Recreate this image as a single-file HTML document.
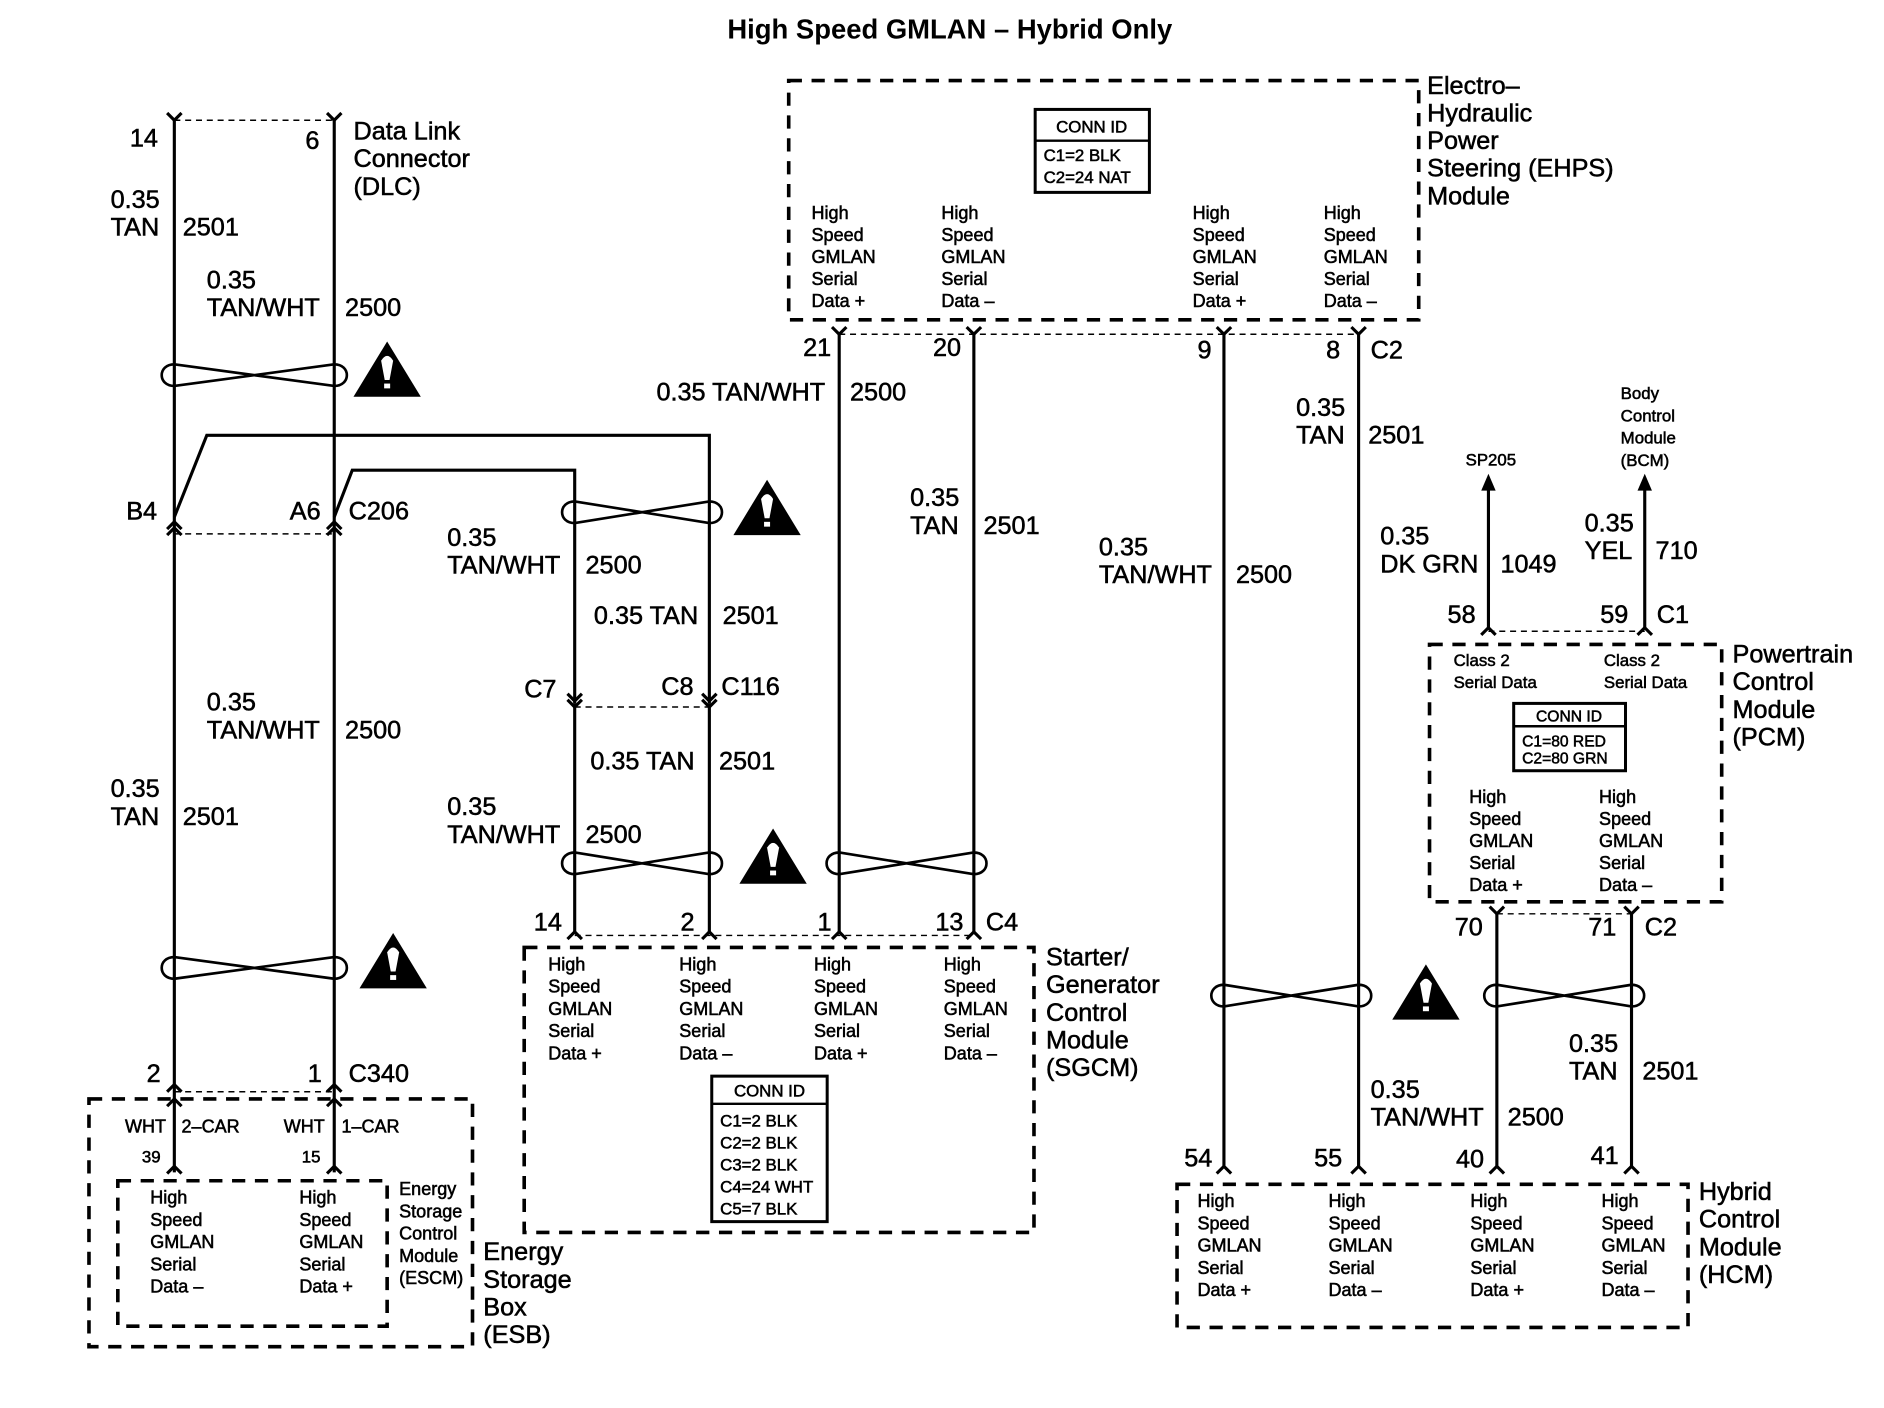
<!DOCTYPE html>
<html><head><meta charset="utf-8"><style>
html,body{margin:0;padding:0;background:#fff;}
svg{display:block;}
text{font-family:"Liberation Sans",Arial,sans-serif;fill:#000;stroke:#000;stroke-width:0.45;}
.L{font-size:21px;}
.S{font-size:15px;}
.T{font-size:14px;}
.w{stroke:#000;stroke-width:2.6;fill:none;}
.b{stroke:#000;stroke-width:3;fill:none;stroke-dasharray:11 8;}
.d{stroke:#000;stroke-width:1.2;fill:none;stroke-dasharray:5 4;}
.tw{stroke:#000;stroke-width:2.2;fill:none;}
</style></head><body>
<svg width="1884" height="1408" viewBox="0 0 1567 1171" preserveAspectRatio="none" xmlns="http://www.w3.org/2000/svg">
<defs>
<g id="warn"><polygon points="-28,22 28,22 0,-24" fill="#000"/><path d="M-5,-8 Q0,-16 5,-8 L2,8 L-2,8 Z" fill="#fff"/><rect x="-2.5" y="11" width="5" height="4" fill="#fff"/></g>
</defs>
<text x="605" y="32" textLength="370" lengthAdjust="spacingAndGlyphs" style="font-size:23px;font-weight:bold;stroke-width:0">High Speed GMLAN – Hybrid Only</text>

<!-- DLC -->
<line class="d" x1="145" y1="100" x2="278" y2="100"/>
<polyline class="w" points="139,94 145,100 151,94"/><polyline class="w" points="272,94 278,100 284,94"/>
<line class="w" x1="145" y1="100" x2="145" y2="975"/>
<line class="w" x1="278" y1="100" x2="278" y2="975"/>
<text class="L" x="108" y="122">14</text><text class="L" x="254" y="124">6</text>
<text class="L" x="294" y="116">Data Link<tspan x="294" dy="23">Connector</tspan><tspan x="294" dy="23">(DLC)</tspan></text>
<text class="L" x="92" y="173">0.35<tspan x="92" dy="23">TAN</tspan></text><text class="L" x="152" y="196">2501</text>
<text class="L" x="172" y="240">0.35<tspan x="172" dy="23">TAN/WHT</tspan></text><text class="L" x="287" y="263">2500</text>
<path class="tw" d="M145,303 C131,303 131,321 145,321 L278,303 C292,303 292,321 278,321 Z"/>
<use href="#warn" x="322" y="308"/>

<!-- C206 jogs -->
<polyline class="w" points="145,430 172,362 590,362 590,585"/>
<polyline class="w" points="278,430 293,391 478,391 478,585"/>
<line class="d" x1="145" y1="444" x2="278" y2="444"/>
<polyline class="w" points="139,440 145,434 151,440"/><polyline class="w" points="139,445 145,439 151,445"/>
<polyline class="w" points="272,440 278,434 284,440"/><polyline class="w" points="272,445 278,439 284,445"/>
<text class="L" x="105" y="432">B4</text><text class="L" x="241" y="432">A6</text><text class="L" x="290" y="432">C206</text>
<path class="tw" d="M478,417 C464,417 464,435 478,435 L590,417 C604,417 604,435 590,435 Z"/>
<use href="#warn" x="638" y="423"/>
<text class="L" x="372" y="454">0.35<tspan x="372" dy="23">TAN/WHT</tspan></text><text class="L" x="487" y="477">2500</text>
<text class="L" x="494" y="519">0.35 TAN</text><text class="L" x="601" y="519">2501</text>

<!-- C116 -->
<polyline class="w" points="472,577 478,583 484,577"/><polyline class="w" points="472,582 478,588 484,582"/>
<polyline class="w" points="584,577 590,583 596,577"/><polyline class="w" points="584,582 590,588 596,582"/>
<line class="d" x1="478" y1="588" x2="590" y2="588"/>
<line class="w" x1="478" y1="585" x2="478" y2="775"/><line class="w" x1="590" y1="585" x2="590" y2="775"/>
<text class="L" x="436" y="580">C7</text><text class="L" x="550" y="578">C8</text><text class="L" x="600" y="578">C116</text>
<text class="L" x="491" y="640">0.35 TAN</text><text class="L" x="598" y="640">2501</text>
<text class="L" x="372" y="678">0.35<tspan x="372" dy="23">TAN/WHT</tspan></text><text class="L" x="487" y="701">2500</text>
<path class="tw" d="M478,709 C464,709 464,727 478,727 L590,709 C604,709 604,727 590,727 Z"/>
<use href="#warn" x="643" y="713"/>
<path class="tw" d="M698,709 C684,709 684,727 698,727 L810,709 C824,709 824,727 810,727 Z"/>

<text class="L" x="172" y="591">0.35<tspan x="172" dy="23">TAN/WHT</tspan></text><text class="L" x="287" y="614">2500</text>
<text class="L" x="92" y="663">0.35<tspan x="92" dy="23">TAN</tspan></text><text class="L" x="152" y="686">2501</text>
<path class="tw" d="M145,796 C131,796 131,814 145,814 L278,796 C292,796 292,814 278,814 Z"/>
<use href="#warn" x="327" y="800"/>

<!-- ESB -->
<text class="L" x="122" y="900">2</text><text class="L" x="256" y="900">1</text><text class="L" x="290" y="900">C340</text>
<polyline class="w" points="139,908 145,902 151,908"/><polyline class="w" points="272,908 278,902 284,908"/>
<line class="d" x1="145" y1="908" x2="278" y2="908"/>
<polyline class="w" points="139,920 145,914 151,920"/><polyline class="w" points="272,920 278,914 284,920"/>
<rect class="b" x="74" y="914" width="319" height="206"/>
<text class="S" x="104" y="942">WHT</text><text class="S" x="151" y="942">2–CAR</text>
<text class="S" x="236" y="942">WHT</text><text class="S" x="284" y="942">1–CAR</text>
<text class="T" x="118" y="967">39</text><text class="T" x="251" y="967">15</text>
<polyline class="w" points="139,976 145,970 151,976"/><polyline class="w" points="272,976 278,970 284,976"/>
<rect class="b" x="98" y="982" width="224" height="121"/>
<text class="S" x="125" y="1001">High<tspan x="125" dy="18.5">Speed</tspan><tspan x="125" dy="18.5">GMLAN</tspan><tspan x="125" dy="18.5">Serial</tspan><tspan x="125" dy="18.5">Data –</tspan></text>
<text class="S" x="249" y="1001">High<tspan x="249" dy="18.5">Speed</tspan><tspan x="249" dy="18.5">GMLAN</tspan><tspan x="249" dy="18.5">Serial</tspan><tspan x="249" dy="18.5">Data +</tspan></text>
<text class="S" x="332" y="994">Energy<tspan x="332" dy="18.5">Storage</tspan><tspan x="332" dy="18.5">Control</tspan><tspan x="332" dy="18.5">Module</tspan><tspan x="332" dy="18.5">(ESCM)</tspan></text>
<text class="L" x="402" y="1048">Energy<tspan x="402" dy="23">Storage</tspan><tspan x="402" dy="23">Box</tspan><tspan x="402" dy="23">(ESB)</tspan></text>

<!-- EHPS -->
<rect class="b" x="656" y="67" width="524" height="199"/>
<rect x="861" y="91" width="95" height="69" fill="none" stroke="#000" stroke-width="2.5"/>
<line x1="861" y1="117" x2="956" y2="117" stroke="#000" stroke-width="2"/>
<text class="T" x="908" y="110" text-anchor="middle">CONN ID</text>
<text class="T" x="868" y="134">C1=2 BLK</text><text class="T" x="868" y="152">C2=24 NAT</text>
<text class="S" x="675" y="182">High<tspan x="675" dy="18.3">Speed</tspan><tspan x="675" dy="18.3">GMLAN</tspan><tspan x="675" dy="18.3">Serial</tspan><tspan x="675" dy="18.3">Data +</tspan></text>
<text class="S" x="783" y="182">High<tspan x="783" dy="18.3">Speed</tspan><tspan x="783" dy="18.3">GMLAN</tspan><tspan x="783" dy="18.3">Serial</tspan><tspan x="783" dy="18.3">Data –</tspan></text>
<text class="S" x="992" y="182">High<tspan x="992" dy="18.3">Speed</tspan><tspan x="992" dy="18.3">GMLAN</tspan><tspan x="992" dy="18.3">Serial</tspan><tspan x="992" dy="18.3">Data +</tspan></text>
<text class="S" x="1101" y="182">High<tspan x="1101" dy="18.3">Speed</tspan><tspan x="1101" dy="18.3">GMLAN</tspan><tspan x="1101" dy="18.3">Serial</tspan><tspan x="1101" dy="18.3">Data –</tspan></text>
<text class="L" x="1187" y="78">Electro–<tspan x="1187" dy="23">Hydraulic</tspan><tspan x="1187" dy="23">Power</tspan><tspan x="1187" dy="23">Steering (EHPS)</tspan><tspan x="1187" dy="23">Module</tspan></text>
<line class="d" x1="698" y1="278" x2="1130" y2="278"/>
<polyline class="w" points="692,272 698,278 704,272"/><polyline class="w" points="804,272 810,278 816,272"/>
<polyline class="w" points="1012,272 1018,278 1024,272"/><polyline class="w" points="1124,272 1130,278 1136,272"/>
<line class="w" x1="698" y1="278" x2="698" y2="775"/><line class="w" x1="810" y1="278" x2="810" y2="775"/>
<line class="w" x1="1018" y1="278" x2="1018" y2="970"/><line class="w" x1="1130" y1="278" x2="1130" y2="970"/>
<text class="L" x="668" y="296">21</text><text class="L" x="776" y="296">20</text><text class="L" x="996" y="298">9</text><text class="L" x="1103" y="298">8</text><text class="L" x="1140" y="298">C2</text>
<text class="L" x="546" y="333">0.35 TAN/WHT</text><text class="L" x="707" y="333">2500</text>
<text class="L" x="757" y="421">0.35<tspan x="757" dy="23">TAN</tspan></text><text class="L" x="818" y="444">2501</text>
<text class="L" x="1078" y="346">0.35<tspan x="1078" dy="23">TAN</tspan></text><text class="L" x="1138" y="369">2501</text>
<text class="L" x="914" y="462">0.35<tspan x="914" dy="23">TAN/WHT</tspan></text><text class="L" x="1028" y="485">2500</text>

<!-- SGCM -->
<polyline class="w" points="472,781 478,775 484,781"/><polyline class="w" points="584,781 590,775 596,781"/>
<polyline class="w" points="692,781 698,775 704,781"/><polyline class="w" points="804,781 810,775 816,781"/>
<line class="d" x1="478" y1="778" x2="810" y2="778"/>
<text class="L" x="444" y="774">14</text><text class="L" x="566" y="774">2</text><text class="L" x="680" y="774">1</text><text class="L" x="778" y="774">13</text><text class="L" x="820" y="774">C4</text>
<rect class="b" x="436" y="788" width="424" height="237"/>
<text class="S" x="456" y="807">High<tspan x="456" dy="18.5">Speed</tspan><tspan x="456" dy="18.5">GMLAN</tspan><tspan x="456" dy="18.5">Serial</tspan><tspan x="456" dy="18.5">Data +</tspan></text>
<text class="S" x="565" y="807">High<tspan x="565" dy="18.5">Speed</tspan><tspan x="565" dy="18.5">GMLAN</tspan><tspan x="565" dy="18.5">Serial</tspan><tspan x="565" dy="18.5">Data –</tspan></text>
<text class="S" x="677" y="807">High<tspan x="677" dy="18.5">Speed</tspan><tspan x="677" dy="18.5">GMLAN</tspan><tspan x="677" dy="18.5">Serial</tspan><tspan x="677" dy="18.5">Data +</tspan></text>
<text class="S" x="785" y="807">High<tspan x="785" dy="18.5">Speed</tspan><tspan x="785" dy="18.5">GMLAN</tspan><tspan x="785" dy="18.5">Serial</tspan><tspan x="785" dy="18.5">Data –</tspan></text>
<rect x="592" y="895" width="96" height="121" fill="none" stroke="#000" stroke-width="2.5"/>
<line x1="592" y1="918" x2="688" y2="918" stroke="#000" stroke-width="2"/>
<text class="T" x="640" y="912" text-anchor="middle">CONN ID</text>
<text class="T" x="599" y="937">C1=2 BLK<tspan x="599" dy="18.3">C2=2 BLK</tspan><tspan x="599" dy="18.3">C3=2 BLK</tspan><tspan x="599" dy="18.3">C4=24 WHT</tspan><tspan x="599" dy="18.3">C5=7 BLK</tspan></text>
<text class="L" x="870" y="803">Starter/<tspan x="870" dy="23">Generator</tspan><tspan x="870" dy="23">Control</tspan><tspan x="870" dy="23">Module</tspan><tspan x="870" dy="23">(SGCM)</tspan></text>

<!-- PCM -->
<line class="w" x1="1238" y1="522" x2="1238" y2="404"/><polygon points="1232,408 1238,394 1244,408" fill="#000"/>
<line class="w" x1="1368" y1="522" x2="1368" y2="404"/><polygon points="1362,408 1368,394 1374,408" fill="#000"/>
<polyline class="w" points="1232,528 1238,522 1244,528"/><polyline class="w" points="1362,528 1368,522 1374,528"/>
<line class="d" x1="1238" y1="525" x2="1368" y2="525"/>
<text class="T" x="1219" y="387">SP205</text>
<text class="T" x="1348" y="332">Body<tspan x="1348" dy="18.5">Control</tspan><tspan x="1348" dy="18.5">Module</tspan><tspan x="1348" dy="18.5">(BCM)</tspan></text>
<text class="L" x="1148" y="453">0.35<tspan x="1148" dy="23">DK GRN</tspan></text><text class="L" x="1248" y="476">1049</text>
<text class="L" x="1318" y="442">0.35<tspan x="1318" dy="23">YEL</tspan></text><text class="L" x="1377" y="465">710</text>
<text class="L" x="1204" y="518">58</text><text class="L" x="1331" y="518">59</text><text class="L" x="1378" y="518">C1</text>
<rect class="b" x="1189" y="536" width="243" height="214"/>
<text class="T" x="1209" y="554">Class 2<tspan x="1209" dy="18">Serial Data</tspan></text>
<text class="T" x="1334" y="554">Class 2<tspan x="1334" dy="18">Serial Data</tspan></text>
<rect x="1259" y="585" width="93" height="56" fill="none" stroke="#000" stroke-width="2.5"/>
<line x1="1259" y1="604" x2="1352" y2="604" stroke="#000" stroke-width="2"/>
<text class="T" x="1305" y="600" text-anchor="middle" style="font-size:13px">CONN ID</text>
<text class="T" x="1266" y="621" style="font-size:13px">C1=80 RED<tspan x="1266" dy="14">C2=80 GRN</tspan></text>
<text class="S" x="1222" y="668">High<tspan x="1222" dy="18.3">Speed</tspan><tspan x="1222" dy="18.3">GMLAN</tspan><tspan x="1222" dy="18.3">Serial</tspan><tspan x="1222" dy="18.3">Data +</tspan></text>
<text class="S" x="1330" y="668">High<tspan x="1330" dy="18.3">Speed</tspan><tspan x="1330" dy="18.3">GMLAN</tspan><tspan x="1330" dy="18.3">Serial</tspan><tspan x="1330" dy="18.3">Data –</tspan></text>
<text class="L" x="1441" y="551">Powertrain<tspan x="1441" dy="23">Control</tspan><tspan x="1441" dy="23">Module</tspan><tspan x="1441" dy="23">(PCM)</tspan></text>
<line class="d" x1="1245" y1="760" x2="1357" y2="760"/>
<polyline class="w" points="1239,754 1245,760 1251,754"/><polyline class="w" points="1351,754 1357,760 1363,754"/>
<line class="w" x1="1245" y1="760" x2="1245" y2="970"/><line class="w" x1="1357" y1="760" x2="1357" y2="970"/>
<text class="L" x="1210" y="778">70</text><text class="L" x="1321" y="778">71</text><text class="L" x="1368" y="778">C2</text>
<path class="tw" d="M1018,819 C1004,819 1004,837 1018,837 L1130,819 C1144,819 1144,837 1130,837 Z"/>
<use href="#warn" x="1186" y="826"/>
<path class="tw" d="M1245,819 C1231,819 1231,837 1245,837 L1357,819 C1371,819 1371,837 1357,837 Z"/>
<text class="L" x="1305" y="875">0.35<tspan x="1305" dy="23">TAN</tspan></text><text class="L" x="1366" y="898">2501</text>
<text class="L" x="1140" y="913">0.35<tspan x="1140" dy="23">TAN/WHT</tspan></text><text class="L" x="1254" y="936">2500</text>

<!-- HCM -->
<polyline class="w" points="1012,976 1018,970 1024,976"/><polyline class="w" points="1124,976 1130,970 1136,976"/>
<polyline class="w" points="1239,976 1245,970 1251,976"/><polyline class="w" points="1351,976 1357,970 1363,976"/>
<text class="L" x="985" y="970">54</text><text class="L" x="1093" y="970">55</text><text class="L" x="1211" y="971">40</text><text class="L" x="1323" y="968">41</text>
<rect class="b" x="979" y="985" width="425" height="119"/>
<text class="S" x="996" y="1004">High<tspan x="996" dy="18.5">Speed</tspan><tspan x="996" dy="18.5">GMLAN</tspan><tspan x="996" dy="18.5">Serial</tspan><tspan x="996" dy="18.5">Data +</tspan></text>
<text class="S" x="1105" y="1004">High<tspan x="1105" dy="18.5">Speed</tspan><tspan x="1105" dy="18.5">GMLAN</tspan><tspan x="1105" dy="18.5">Serial</tspan><tspan x="1105" dy="18.5">Data –</tspan></text>
<text class="S" x="1223" y="1004">High<tspan x="1223" dy="18.5">Speed</tspan><tspan x="1223" dy="18.5">GMLAN</tspan><tspan x="1223" dy="18.5">Serial</tspan><tspan x="1223" dy="18.5">Data +</tspan></text>
<text class="S" x="1332" y="1004">High<tspan x="1332" dy="18.5">Speed</tspan><tspan x="1332" dy="18.5">GMLAN</tspan><tspan x="1332" dy="18.5">Serial</tspan><tspan x="1332" dy="18.5">Data –</tspan></text>
<text class="L" x="1413" y="998">Hybrid<tspan x="1413" dy="23">Control</tspan><tspan x="1413" dy="23">Module</tspan><tspan x="1413" dy="23">(HCM)</tspan></text>
</svg>
</body></html>
